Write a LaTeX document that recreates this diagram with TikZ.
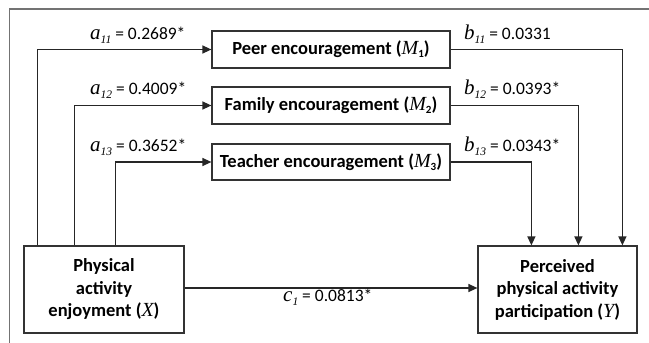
\documentclass[tikz,border=0pt]{standalone}
\usepackage{fontspec}
\setmainfont{Carlito}
\newfontfamily\tms{Liberation Serif}
\usetikzlibrary{arrows.meta}
\newcommand{\bvar}[2]{{\tms\mdseries\itshape\fontsize{20}{20}\selectfont #1}\raisebox{-0.35ex}{\fontsize{11}{11}\selectfont #2}}
\newcommand{\cvar}[2]{{\tms\itshape\fontsize{21}{21}\selectfont #1\raisebox{-0.45ex}{\fontsize{11.5}{11.5}\selectfont #2}}}
\begin{document}
\begin{tikzpicture}[x=1pt,y=-1pt,
  box/.style={draw=black!80,line width=1.2pt,inner sep=0pt,font=\fontsize{18.5}{22.5}\selectfont\bfseries,align=center},
  arr/.style={draw=black!85,line width=1.2pt,-{Triangle[length=9pt,width=8pt]}},
  lbl/.style={anchor=base west,inner sep=0pt,font=\fontsize{17.5}{22}\selectfont},
  frame/.style={draw=black!55,line width=1.6pt}]
\useasboundingbox (0,0) rectangle (649,343);
\fill[white] (0,0) rectangle (649,343);
\draw[frame] (9.5,343) -- (9.5,8.7) -- (649,8.7);
\node[box,minimum width=238pt,minimum height=37pt] (M1) at (331,49.5) {Peer encouragement (\bvar{M}{1})};
\node[box,minimum width=238pt,minimum height=37pt] (M2) at (331,105.5) {Family encouragement (\bvar{M}{2})};
\node[box,minimum width=238pt,minimum height=36pt] (M3) at (331,162) {Teacher encouragement (\bvar{M}{3})};
\node[box,minimum width=160pt,minimum height=87pt] (X) at (104,289.5) {Physical\\activity\\enjoyment ({\tms\mdseries\itshape\fontsize{20}{20}\selectfont X})};
\node[box,minimum width=159pt,minimum height=87pt] (Y) at (557.5,289.5) {Perceived\\physical activity\\participation ({\tms\mdseries\itshape\fontsize{20}{20}\selectfont Y})};
\draw[arr] ([xshift=13.7pt]X.north west) |- (M1.west);
\draw[arr] ([xshift=51pt]X.north west) |- (M2.west);
\draw[arr] ([xshift=92pt]X.north west) |- (M3.west);
\draw[arr] (M1.east) -| ([xshift=145pt]Y.north west);
\draw[arr] (M2.east) -| ([xshift=101pt]Y.north west);
\draw[arr] (M3.east) -| ([xshift=54pt]Y.north west);
\draw[arr] (X.east |- 0,288) coordinate (c0) -- (Y.west |- c0);
\node[lbl] (la1) at (90,39) {\cvar{a}{11} = 0.2689*};
\node[lbl] (la2) at (90,94) {\cvar{a}{12} = 0.4009*};
\node[lbl] (la3) at (90,151) {\cvar{a}{13} = 0.3652*};
\node[lbl] (lb1) at (464,39) {\cvar{b}{11} = 0.0331};
\node[lbl] (lb2) at (464,94) {\cvar{b}{12} = 0.0393*};
\node[lbl] (lb3) at (464,151) {\cvar{b}{13} = 0.0343*};
\node[lbl] (lc) at (283,301) {\cvar{c}{1} = 0.0813*};
\end{tikzpicture}
\end{document}
